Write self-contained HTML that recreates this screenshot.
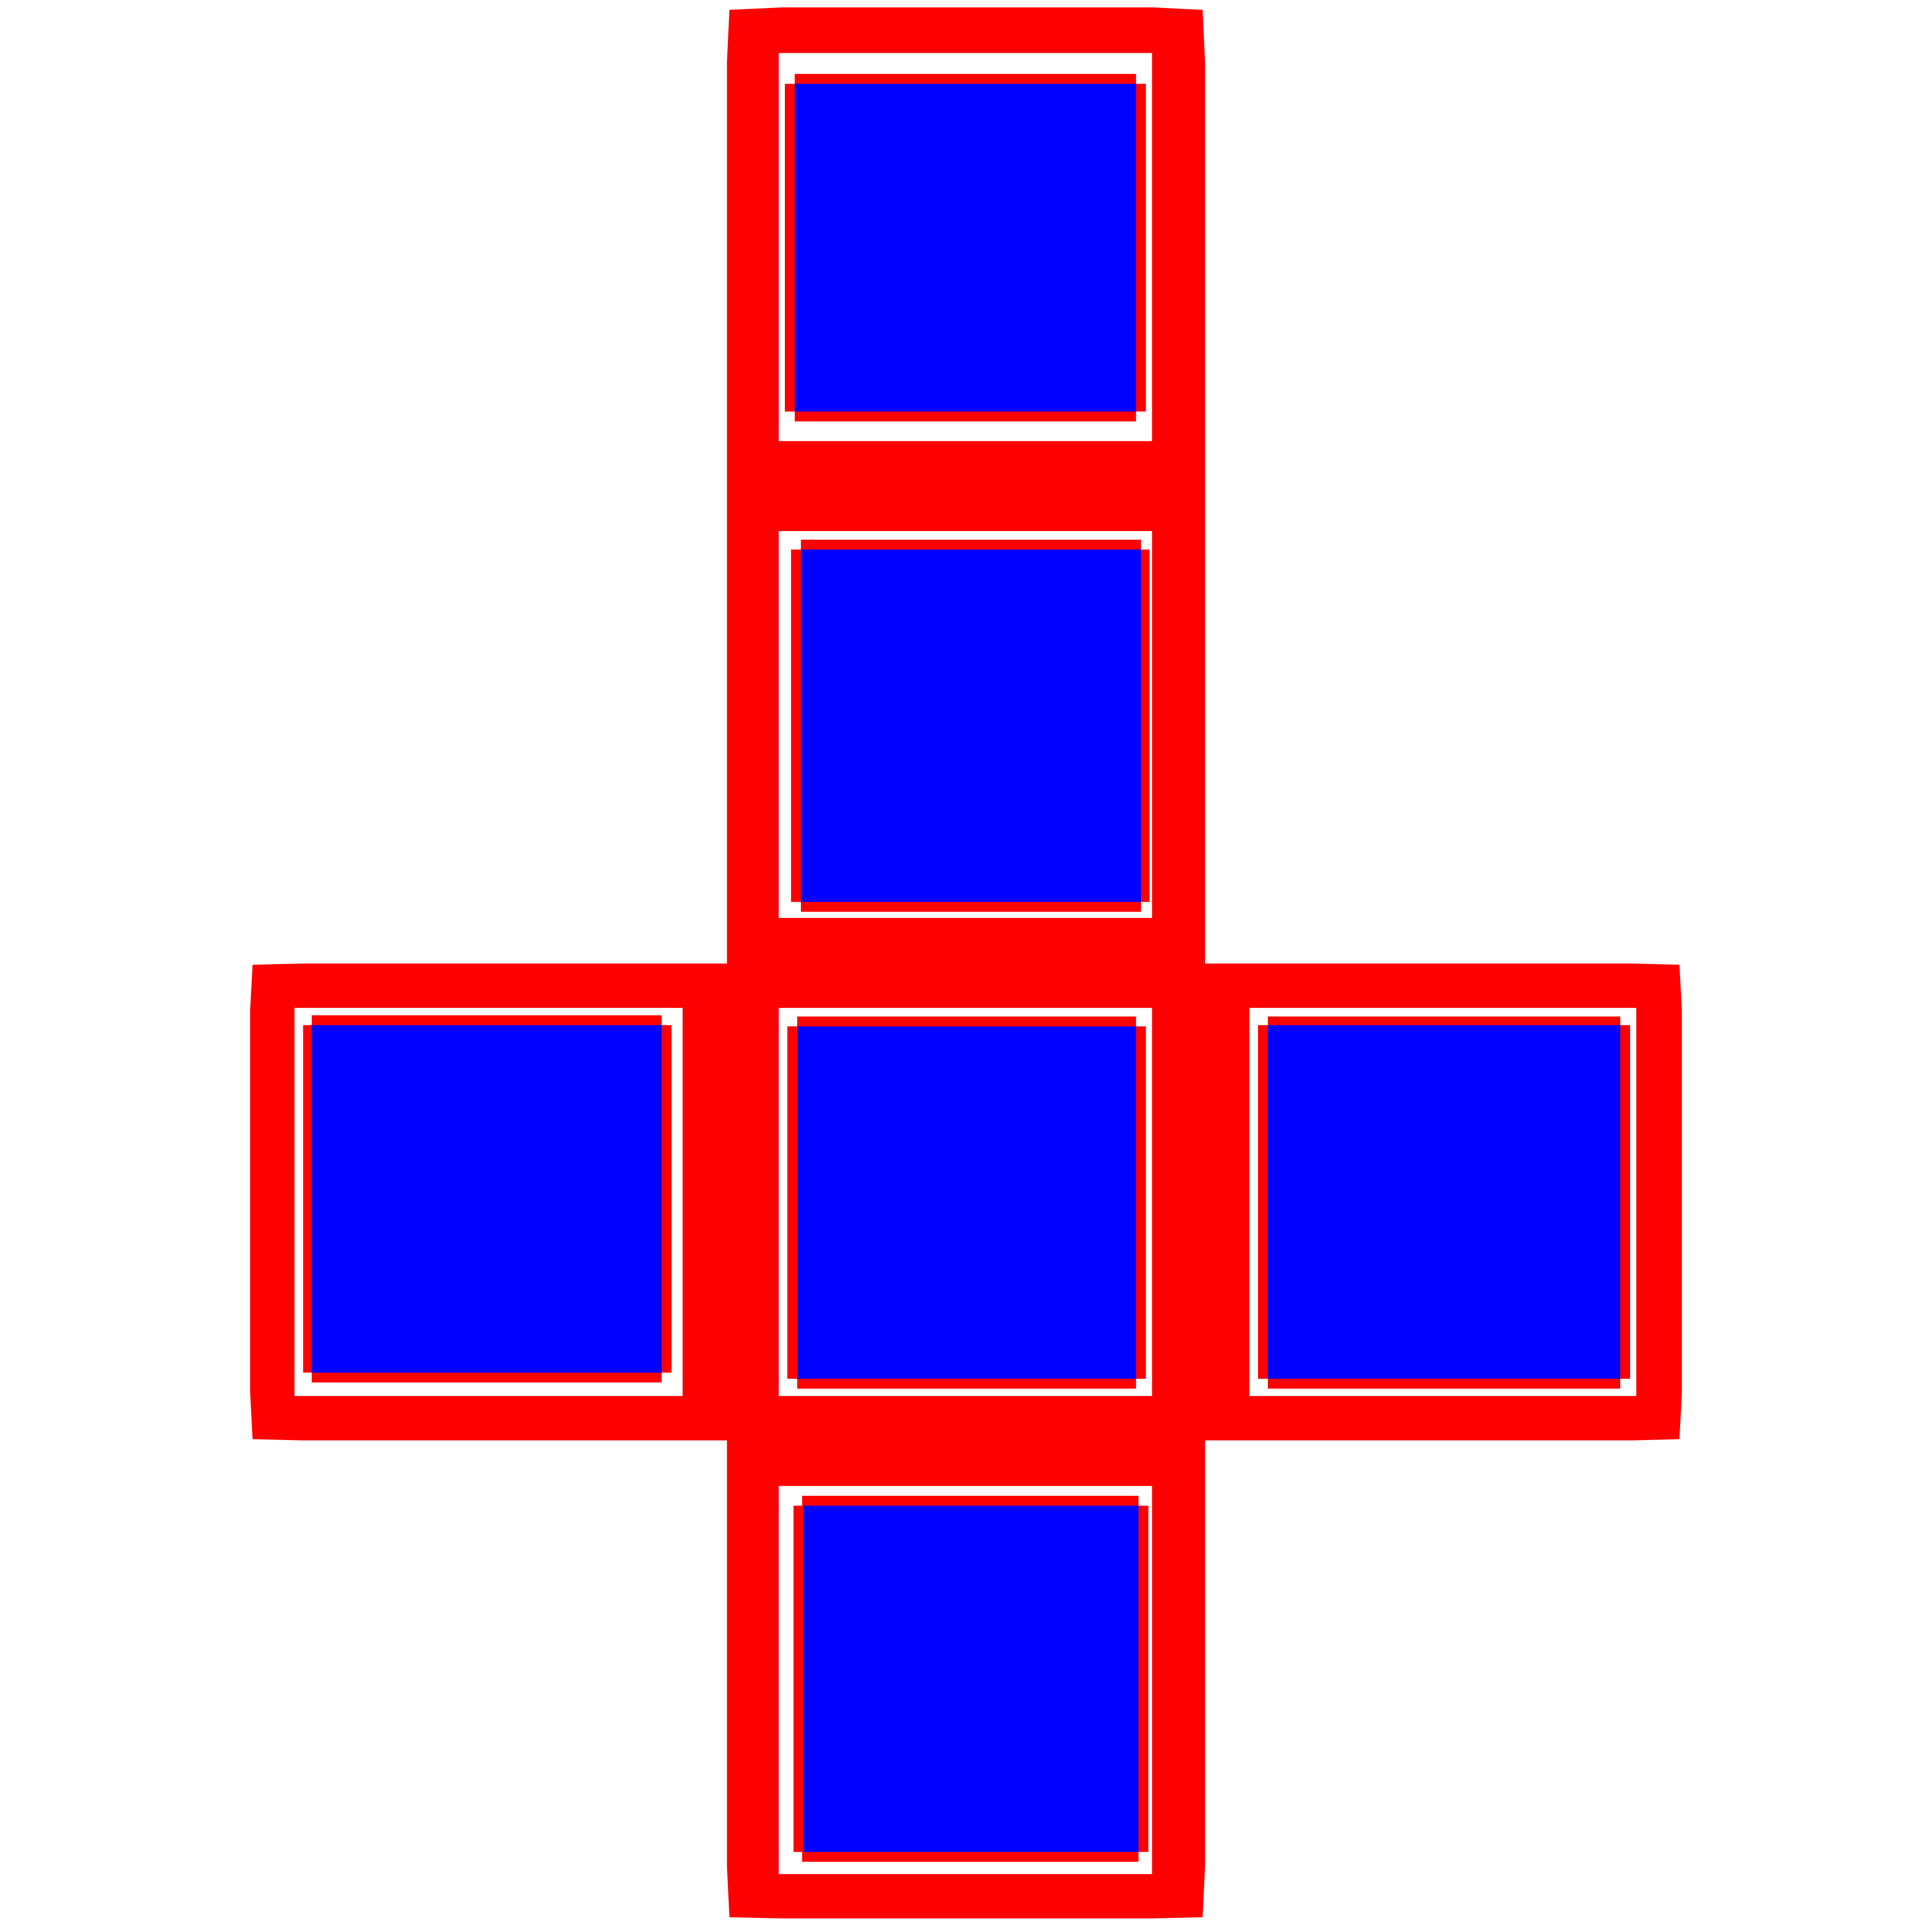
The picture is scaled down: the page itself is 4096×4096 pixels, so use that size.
<!DOCTYPE html>
<html><head><meta charset="utf-8"><style>html,body{margin:0;padding:0;background:#fff}svg{display:block}</style></head>
<body>
<svg id="c" width="4096" height="4096" viewBox="0 0 1568 1568" xmlns="http://www.w3.org/2000/svg">
<rect x="0" y="0" width="1568" height="1568" fill="#fff"/>
<path d="M592,8 L635,6 L935,6 L976,8 L978,50 L978,1515 L976,1556 L935,1557 L635,1557 L592,1556 L590,1515 L590,50 Z" fill="#f00"/>
<path d="M205,783 L245,782 L1325,782 L1363,783 L1365,820 L1365,1130 L1363,1168 L1325,1169 L245,1169 L205,1168 L203,1130 L203,820 Z" fill="#f00"/>
<g id="cells"></g>
</svg>
<script>
// cell holes [x0,y0,x1,y1]
const holes = [[632,43,935,358],[632,431,935,745],[239,818,554,1133],[632,818,935,1133],[1014,818,1328,1133],[632,1206,935,1521]];
const redA = [[637,68,930,334],[642,446,933,732],[246,832,545,1114],[639,833,930,1119],[1021,832,1323,1119],[644,1222,932,1503]];
const redB = [[645,60,922,342],[650,438,926,740],[253,824,537,1122],[647,825,922,1127],[1029,825,1315,1127],[651,1214,924,1511]];
const blue = [[645,68,922,334],[650,446,926,732],[253,832,537,1114],[647,833,922,1119],[1029,832,1315,1119],[652,1222,924,1503]];
const names = ['top','second','left','center','right','bottom'];
const g = document.getElementById('cells');
const NS = 'http://www.w3.org/2000/svg';
function r(b, fill, name) {
  const e = document.createElementNS(NS, 'rect');
  e.setAttribute('x', b[0]); e.setAttribute('y', b[1]);
  e.setAttribute('width', b[2]-b[0]); e.setAttribute('height', b[3]-b[1]);
  e.setAttribute('fill', fill);
  
  
  g.appendChild(e);
}
for (let i = 0; i < holes.length; i++) {
  r(holes[i], '#fff', names[i] + '-cell-hole');
  r(redA[i], '#f00', names[i] + '-red-square-a');
  r(redB[i], '#f00', names[i] + '-red-square-b');
  r(blue[i], '#00f', names[i] + '-blue-square');
}
</script>
</body></html>
